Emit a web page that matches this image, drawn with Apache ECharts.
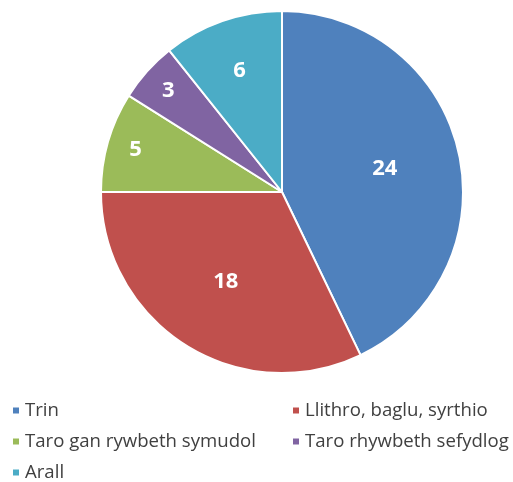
<!DOCTYPE html>
<html><head><meta charset="utf-8">
<script src="https://cdn.jsdelivr.net/npm/echarts@6/dist/echarts.min.js"></script>
<style>html,body{margin:0;padding:0;background:#fff}#c{width:513px;height:482px}</style>
</head><body><div id="c"></div>
<script>
const categories = ['Trin', 'Llithro, baglu, syrthio', 'Taro gan rywbeth symudol', 'Taro rhywbeth sefydlog', 'Arall'];
const values = [24, 18, 5, 3, 6];
const colors = ['#4F81BD', '#C0504D', '#9BBB59', '#8064A2', '#4BACC6'];
const labelGroup = [0, 0, 1, 1, 2];

const chart = echarts.init(document.getElementById('c'), null, {renderer: 'canvas'});
const font = "'Open Sans', sans-serif";
const base = categories.map((n, i) => ({name: n, value: values[i], itemStyle: {color: colors[i]}}));
const labelStyle = {show: true, position: 'inside', color: '#fff', fontSize: 22, fontWeight: 'bold', fontFamily: font, formatter: '{c}'};
function overlay(r0, g) {
  return {
    type: 'pie', center: [282, 192], radius: [r0, 181], startAngle: 90, silent: true,
    legendHoverLink: false,
    data: base.map((d, i) => ({name: d.name, value: d.value,
      itemStyle: {color: 'rgba(0,0,0,0)', borderWidth: 0},
      label: Object.assign({}, labelStyle, {show: labelGroup[i] === g})})),
    labelLine: {show: false}, emphasis: {disabled: true}
  };
}
const legendCommon = {orient: 'vertical', icon: 'rect', itemWidth: 8, itemHeight: 8, itemGap: 12, padding: 0,
  height: 100, textStyle: {fontSize: 18.6, fontFamily: font, color: '#404040'}, selectedMode: false};
chart.setOption({
  animation: false,
  legend: [
    Object.assign({left: 11, top: 401, data: [categories[0], categories[2], categories[4]]}, legendCommon),
    Object.assign({left: 291, top: 401, data: [categories[1], categories[3]]}, legendCommon)
  ],
  series: [
    {type: 'pie', center: [282, 192], radius: 181, startAngle: 90,
     data: base, label: {show: false}, labelLine: {show: false},
     itemStyle: {borderColor: '#fff', borderWidth: 2}, emphasis: {disabled: true}},
    overlay(24, 0),
    overlay(118, 1),
    overlay(70, 2)
  ]
});
</script></body></html>
